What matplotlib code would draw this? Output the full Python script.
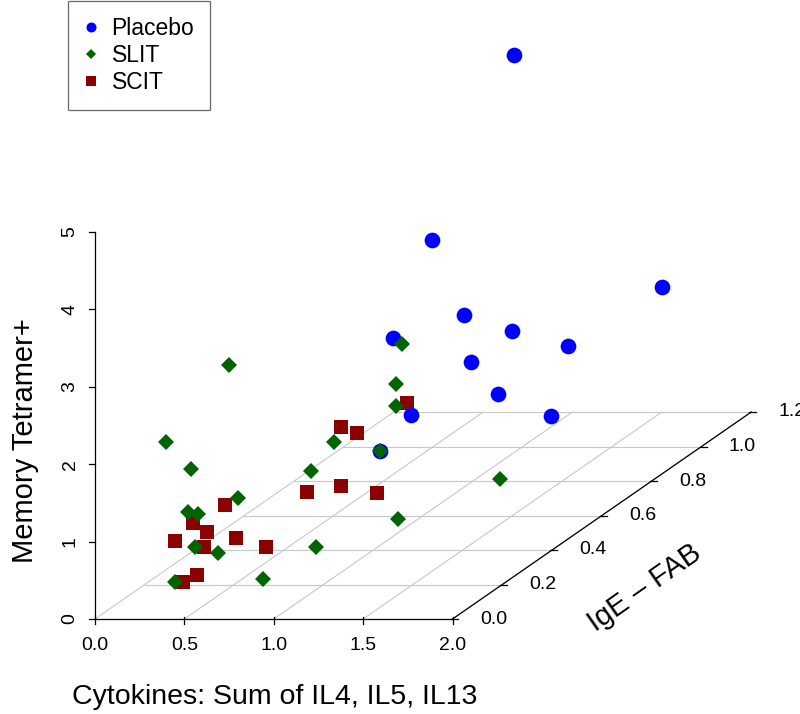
import matplotlib
matplotlib.use("Agg")
import matplotlib.pyplot as plt
from matplotlib.lines import Line2D
import numpy as np

plt.rcParams['font.family'] = ['Liberation Sans', 'DejaVu Sans']

# data: x = cytokines, y = IgE-FAB, z = memory tetramer+
placebo_x = np.array([0.81, 0.56, 1.71, 0.81, 1.15, 0.83, 1.32, 0.99, 1.07, 0.79, 1.16, 0.83])
placebo_y = np.array([1.10, 0.95, 1.05, 0.90, 0.85, 0.60, 0.95, 0.80, 0.85, 0.70, 1.00, 0.55])
placebo_z = np.array([4.84, 2.78, 1.95, 1.92, 1.83, 2.29, 1.41, 1.54, 1.01, 1.08, 0.39, 0.95])

slit_x = np.array([0.33, 0.88, 0.92, 0.85, 0.71, 0.26, 0.90, 0.33, 0.65, 0.45,
                   1.29, 1.07, 0.24, 0.23, 0.35, 0.41, 0.31, 0.73, 0.82])
slit_y = np.array([0.30, 0.60, 0.55, 0.60, 0.45, 0.10, 0.50, 0.15, 0.40, 0.25,
                   0.70, 0.45, 0.20, 0.25, 0.15, 0.20, 0.10, 0.15, 0.30])
slit_z = np.array([2.61, 2.22, 1.81, 1.42, 1.28, 2.06, 1.06, 1.60, 1.02, 1.01,
                   0.25, 0.29, 0.94, 0.80, 0.60, 0.41, 0.26, 0.18, 0.26])

scit_x = np.array([0.31, 0.34, 0.35, 0.33, 0.38, 0.44, 0.54, 0.43, 0.42, 0.63,
                   0.75, 0.81, 0.75, 0.77, 0.91])
scit_y = np.array([0.10, 0.15, 0.20, 0.20, 0.25, 0.25, 0.30, 0.10, 0.05, 0.40,
                   0.45, 0.55, 0.45, 0.50, 0.60])
scit_z = np.array([0.79, 0.91, 0.68, 0.48, 0.92, 0.49, 0.26, 0.35, 0.37, 0.75,
                   0.72, 0.40, 1.48, 1.29, 1.45])

x_ticks = [0.0, 0.5, 1.0, 1.5, 2.0]
y_ticks = [0.0, 0.2, 0.4, 0.6, 0.8, 1.0, 1.2]
z_ticks = [0, 1, 2, 3, 4, 5]

# oblique projection like scatterplot3d (y axis goes back to the upper right)
px_x = 178.75   # pixels per x unit
px_z = 77.4     # pixels per z unit
SX = 249 / px_x
SZ = 172.5 / px_z


def proj(x, y, z):
    x = np.asarray(x, float)
    y = np.asarray(y, float)
    z = np.asarray(z, float)
    return x + SX * y, z + SZ * y


fig = plt.figure(figsize=(8, 7.14), dpi=100)
ax = fig.add_axes([0, 0, 1, 1])
ax.set_xlim(-95 / px_x, (800 - 95) / px_x)
ax.set_ylim(-(714 - 619) / px_z, 619 / px_z)
ax.axis('off')

grid_col = '#c8c8c8'
for yt in y_ticks:
    gx, gz = proj([0, 2], [yt, yt], [0, 0])
    ax.plot(gx, gz, color=grid_col, lw=0.8, zorder=1)
for xt in x_ticks:
    gx, gz = proj([xt, xt], [0, 1.2], [0, 0])
    ax.plot(gx, gz, color=grid_col, lw=0.8, zorder=1)

# axes
ax.plot([0, 2], [0, 0], color='black', lw=0.9, zorder=2)
ax.plot([0, 0], [0, 5], color='black', lw=0.9, zorder=2)
ex, ez = proj([2, 2], [0, 1.2], [0, 0])
ax.plot(ex, ez, color='black', lw=0.9, zorder=2)

fs_tick = 14
for xt in x_ticks:
    ax.plot([xt, xt], [0.03, -5 / px_z], color='black', lw=0.9)
    ax.text(xt, -26 / px_z, f"{xt:.1f}", ha='center', va='center', fontsize=fs_tick)
for zt in z_ticks:
    ax.plot([-6 / px_x, 0], [zt, zt], color='black', lw=0.9)
    ax.text(-25 / px_x, zt, str(zt), ha='center', va='center', rotation=90, fontsize=fs_tick)
for yt in y_ticks:
    tx, tz = proj(2, yt, 0)
    ax.plot([tx - 2 / px_x, tx + 5 / px_x], [tz, tz], color='black', lw=0.9)
    ax.text(tx + 41 / px_x, tz, f"{yt:.1f}", ha='center', va='center', fontsize=fs_tick)

# axis labels
ax.text((275 - 95) / px_x, -(697 - 619) / px_z, "Cytokines: Sum of IL4, IL5, IL13",
        ha='center', va='center', fontsize=20.5)
ax.text((25 - 95) / px_x, (619 - 441) / px_z, "Memory Tetramer+",
        ha='center', va='center', rotation=90, fontsize=21)
ax.text((645 - 95) / px_x, (619 - 588) / px_z, "IgE \u2013 FAB",
        ha='center', va='center', rotation=35, fontsize=21)

# points
sx, sz = proj(scit_x, scit_y, scit_z)
ax.plot(sx, sz, 's', color='#8b0000', ms=10.3, mew=0, zorder=3)
bx, bz = proj(placebo_x, placebo_y, placebo_z)
ax.plot(bx, bz, 'o', color='#0000ff', ms=11.3, mew=0, zorder=4)
gx, gz = proj(slit_x, slit_y, slit_z)
ax.plot(gx, gz, 'D', color='#006400', ms=8.0, mew=0, zorder=5)

handles = [
    Line2D([], [], marker='o', ls='', color='#0000ff', ms=7.2, mew=0),
    Line2D([], [], marker='D', ls='', color='#006400', ms=4.8, mew=0),
    Line2D([], [], marker='s', ls='', color='#8b0000', ms=7.0, mew=0),
]
leg = ax.legend(handles, ["Placebo", "SLIT", "SCIT"], loc='upper left',
                bbox_to_anchor=(68 / 800, 1 - 1 / 714), bbox_transform=fig.transFigure,
                fontsize=16.5, frameon=True, fancybox=False, borderaxespad=0,
                borderpad=0.7, handlelength=0.65, handleheight=0.7, labelspacing=0.17,
                handletextpad=0.55)
leg.get_frame().set_edgecolor('#444444')
leg.get_frame().set_linewidth(0.9)

fig.savefig("out.png", dpi=100)
